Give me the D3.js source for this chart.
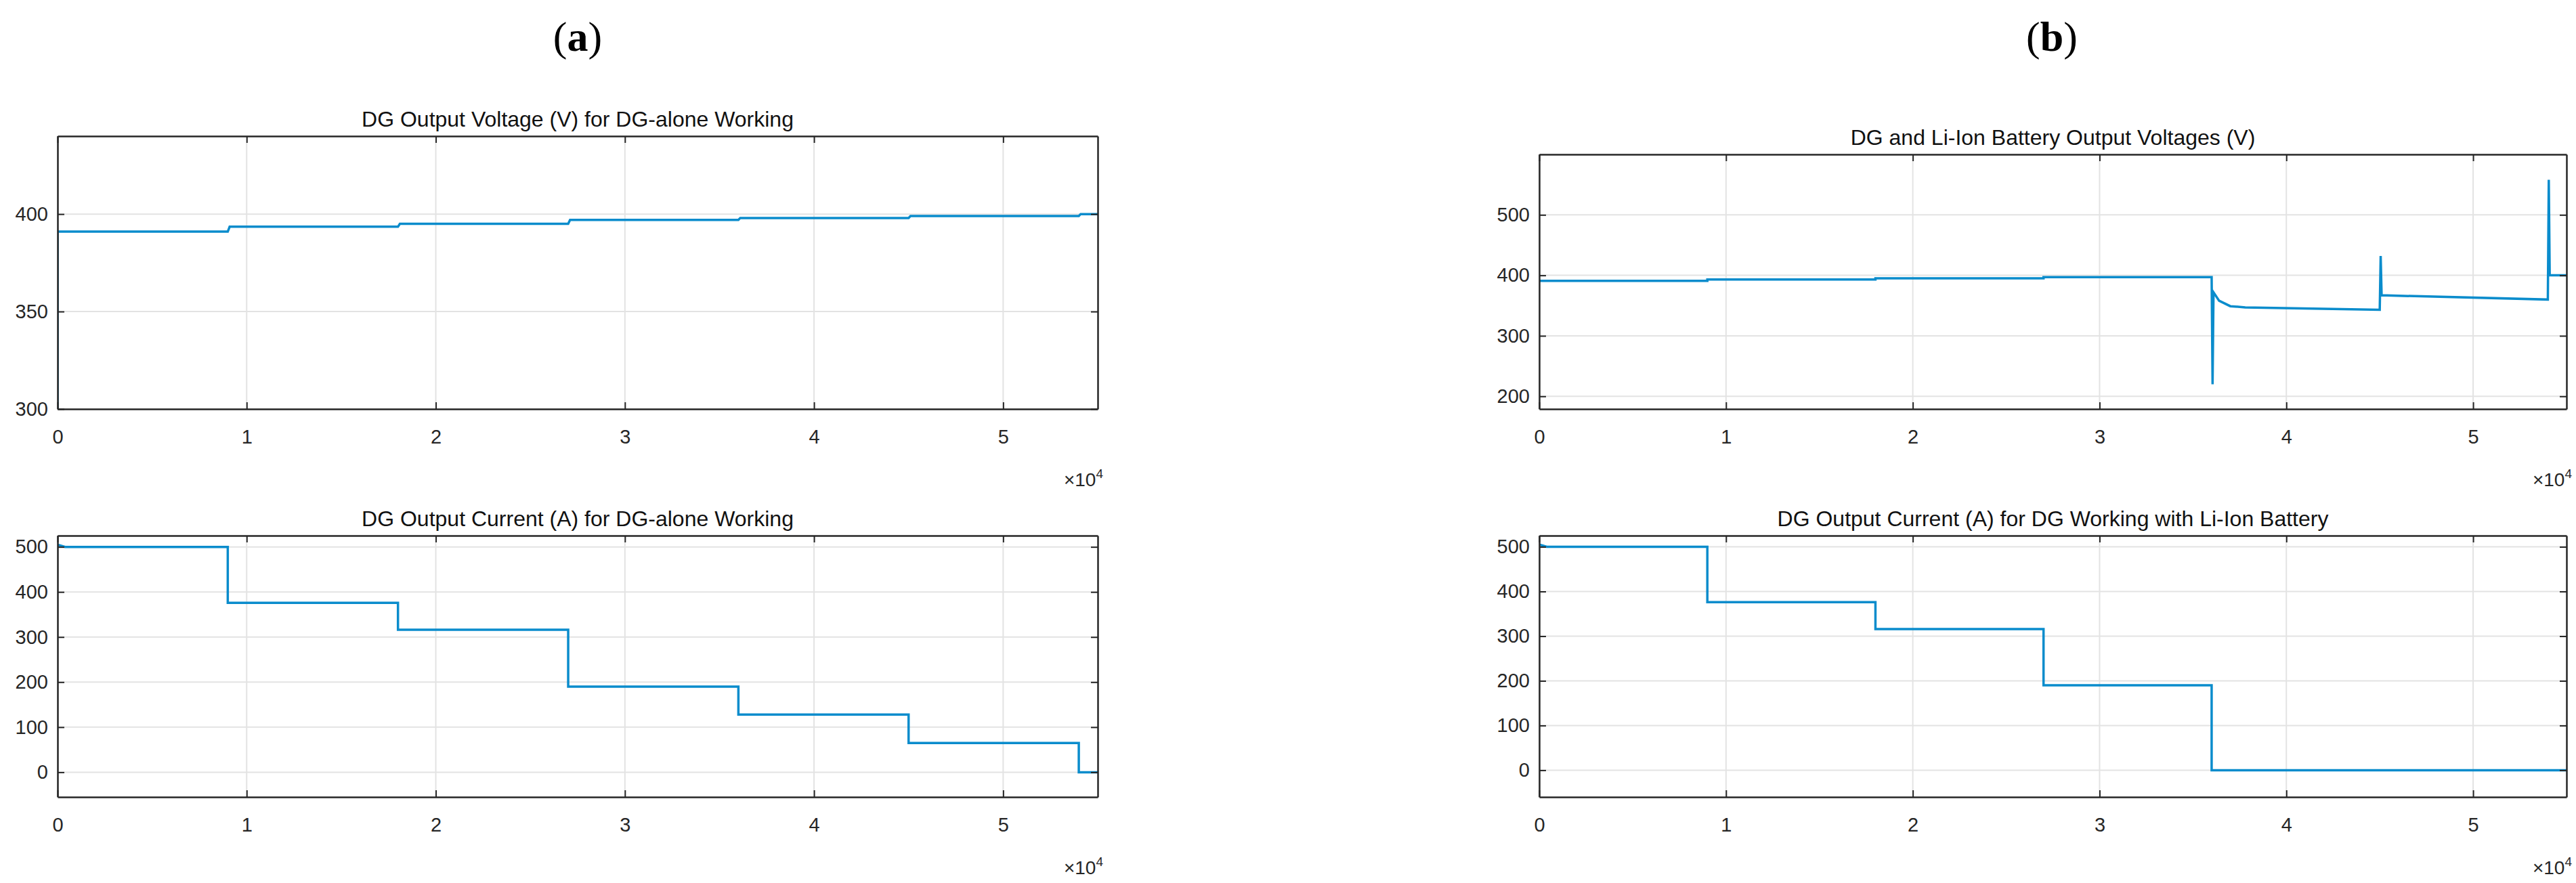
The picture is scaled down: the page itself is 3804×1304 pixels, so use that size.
<!DOCTYPE html>
<html>
<head>
<meta charset="utf-8">
<script src="https://cdn.jsdelivr.net/npm/d3@7"></script>
<style>
  body { margin: 0; background: #fff; }
  text { font-family: "Liberation Sans", Arial, sans-serif; }
</style>
</head>
<body>
<svg id="chart" width="3804" height="1304"></svg>
<script>
// time points (s) and values
var vA = [[0,300],[0,391],[9000,391],[9100,393.5],[18000,393.5],[18100,395],[27000,395],[27100,397],
          [36000,397],[36100,398],[45000,398],[45100,399],[54000,399],[54100,400],[55000,400]];
var iA = [[0,505],[400,500],[9000,500],[9000,376],[18000,376],[18000,316],[27000,316],[27000,190],
          [36000,190],[36000,128],[45000,128],[45000,65],[54000,65],[54000,0],[55000,0]];
var vB = [[0,391],[9000,391],[9000,393],[18000,393],[18000,395],[27000,395],[27000,397],[36000,397],
          [36050,220],[36100,372],[36400,358],[37000,349],[37800,347],[45000,343],[45050,432],
          [45100,367],[54000,360],[54050,558],[54100,400],[55000,400]];
var iB = [[0,505],[400,500],[9000,500],[9000,376],[18000,376],[18000,316],[27000,316],[27000,190],
          [36000,190],[36000,0],[55000,0]];
var xTicks = [0,10000,20000,30000,40000,50000];

var panels = [
  {title: "DG Output Voltage (V) for DG-alone Working", data: vA, x0: 85, x1: 1621, y0: 201, y1: 604, dom: [300,440], ticks: [300,350,400]},
  {title: "DG Output Current (A) for DG-alone Working", data: iA, x0: 85, x1: 1621, y0: 791, y1: 1177, dom: [-55,525], ticks: [0,100,200,300,400,500]},
  {title: "DG and Li-Ion Battery Output Voltages (V)", data: vB, x0: 2273, x1: 3790, y0: 228, y1: 604, dom: [179,600], ticks: [200,300,400,500]},
  {title: "DG Output Current (A) for DG Working with Li-Ion Battery", data: iB, x0: 2273, x1: 3790, y0: 791, y1: 1177, dom: [-60,525], ticks: [0,100,200,300,400,500]}
];

var svg = d3.select("#chart");

[["a", 853], ["b", 3030]].forEach(function(l) {
  var t = svg.append("text").attr("x", l[1]).attr("y", 75).attr("text-anchor", "middle")
    .style("font-family", "Liberation Serif, serif").style("font-size", "62px");
  t.append("tspan").text("(");
  t.append("tspan").attr("font-weight", "bold").text(l[0]);
  t.append("tspan").text(")");
});

panels.forEach(function(p) {
  var x = d3.scaleLinear().domain([0,55000]).range([p.x0, p.x1]);
  var y = d3.scaleLinear().domain(p.dom).range([p.y1, p.y0]);
  var g = svg.append("g");

  g.selectAll(".gx").data(xTicks).enter().append("line")
    .attr("x1", function(d){return x(d);}).attr("x2", function(d){return x(d);})
    .attr("y1", p.y0).attr("y2", p.y1).attr("stroke", "#e3e3e3").attr("stroke-width", 2);
  g.selectAll(".gy").data(p.ticks).enter().append("line")
    .attr("y1", function(d){return y(d);}).attr("y2", function(d){return y(d);})
    .attr("x1", p.x0).attr("x2", p.x1).attr("stroke", "#e3e3e3").attr("stroke-width", 2);

  var clip = "c" + p.x0 + p.y0;
  g.append("clipPath").attr("id", clip).append("rect")
    .attr("x", p.x0).attr("y", p.y0).attr("width", p.x1 - p.x0).attr("height", p.y1 - p.y0);
  g.append("path").datum(p.data).attr("clip-path", "url(#" + clip + ")")
    .attr("fill", "none").attr("stroke", "#0a8ccc").attr("stroke-width", 3.5)
    .attr("d", d3.line().x(function(d){return x(d[0]);}).y(function(d){return y(d[1]);}));

  // box axes, MATLAB style ticks inward
  g.append("g").attr("transform", "translate(0," + p.y1 + ")")
    .call(d3.axisBottom(x).tickValues(xTicks).tickFormat(function(d){return d/10000;}).tickSizeInner(-10).tickSizeOuter(0).tickPadding(30));
  g.append("g").attr("transform", "translate(0," + p.y0 + ")")
    .call(d3.axisTop(x).tickValues(xTicks).tickFormat("").tickSizeInner(-10).tickSizeOuter(0));
  g.append("g").attr("transform", "translate(" + p.x0 + ",0)")
    .call(d3.axisLeft(y).tickValues(p.ticks).tickSizeInner(-10).tickSizeOuter(0).tickPadding(14));
  g.append("g").attr("transform", "translate(" + p.x1 + ",0)")
    .call(d3.axisRight(y).tickValues(p.ticks).tickFormat("").tickSizeInner(-10).tickSizeOuter(0));
  g.selectAll(".domain").attr("stroke", "#262626").attr("stroke-width", 2.5);
  g.selectAll(".tick line").attr("stroke", "#262626").attr("stroke-width", 2);
  g.selectAll(".tick text").attr("fill", "#262626").style("font-size", "29px");

  g.append("text").attr("x", (p.x0 + p.x1) / 2).attr("y", p.y0 - 14).attr("text-anchor", "middle")
    .attr("fill", "#111").style("font-size", "32px").text(p.title);

  var e = g.append("text").attr("x", p.x1 + 8).attr("y", p.y1 + 114).attr("text-anchor", "end")
    .attr("fill", "#262626").style("font-size", "28px");
  e.append("tspan").text("\u00d710");
  e.append("tspan").attr("dy", -12).style("font-size", "19px").text("4");
});
</script>
</body>
</html>
